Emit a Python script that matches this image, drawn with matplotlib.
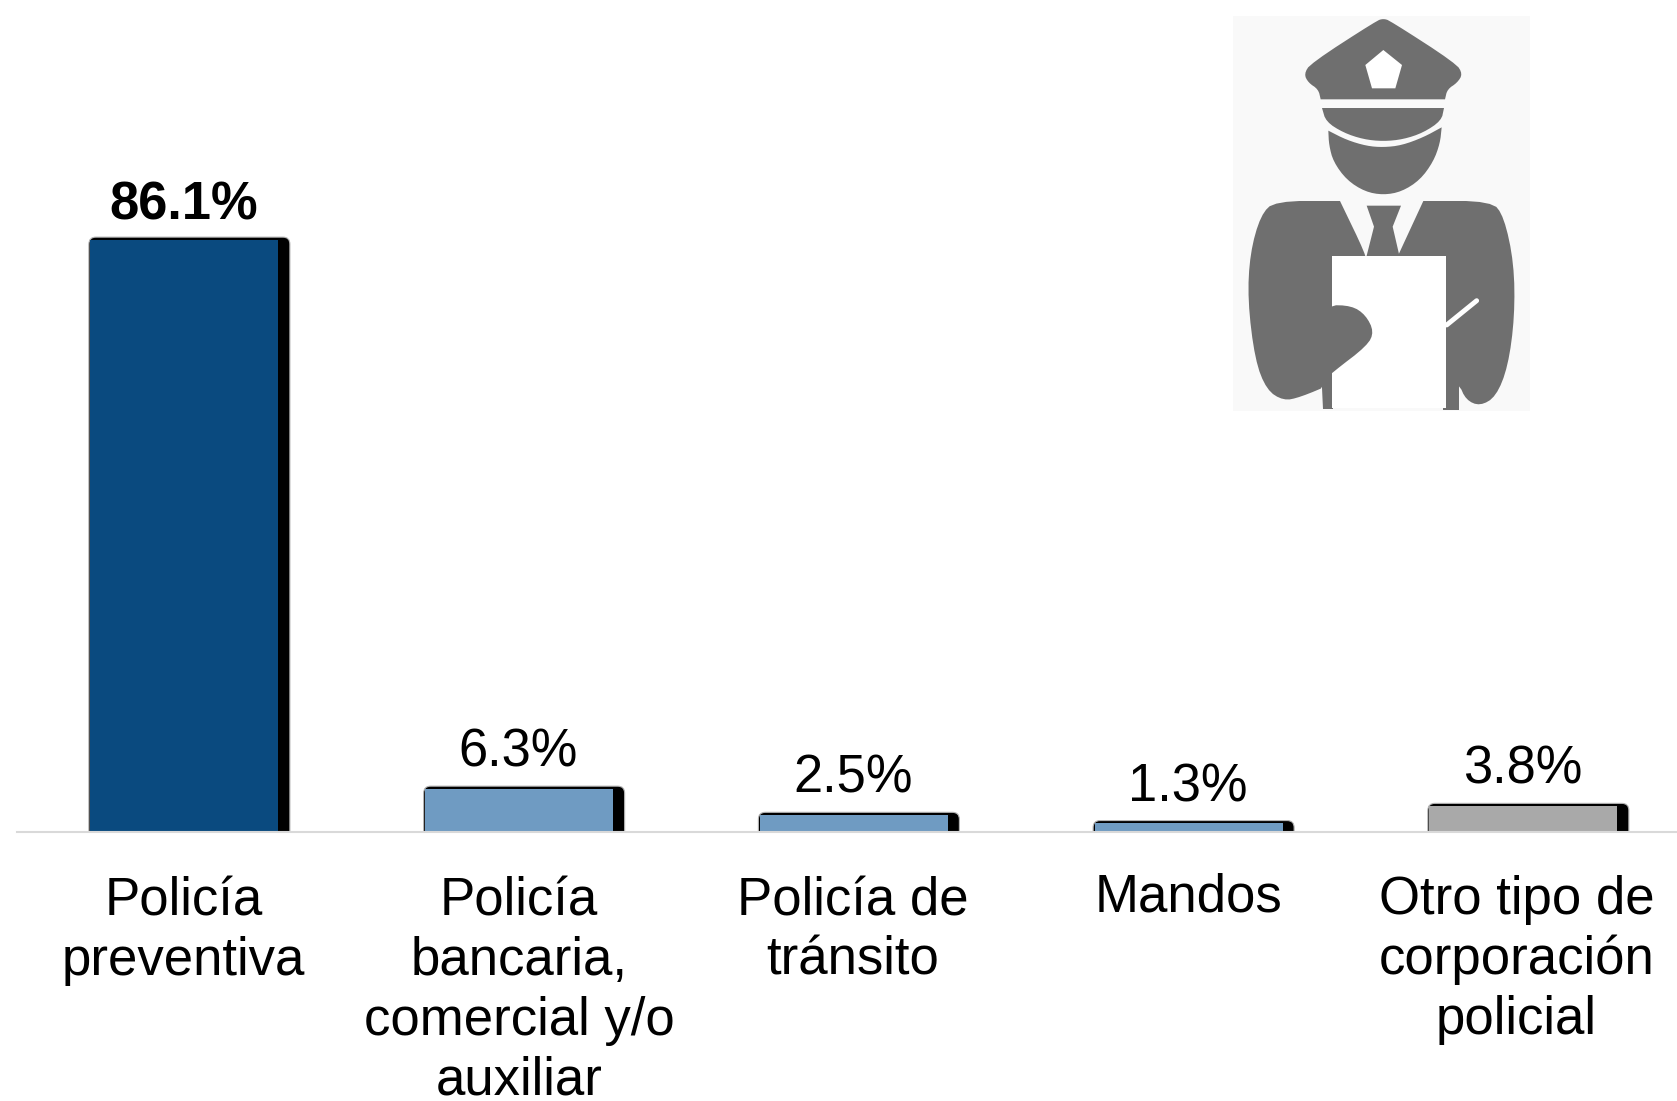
import matplotlib
matplotlib.use('Agg')
import matplotlib.pyplot as plt
from matplotlib.patches import FancyBboxPatch, Polygon, Rectangle

plt.rcParams['font.family'] = ['Liberation Sans', 'DejaVu Sans']

# Datos
categorias = ['Policía\npreventiva', 'Policía\nbancaria,\ncomercial y/o\nauxiliar',
              'Policía de\ntránsito', 'Mandos', 'Otro tipo de\ncorporación\npolicial']
valores = [86.1, 6.3, 2.5, 1.3, 3.8]
colores = ['#0a4a7f', '#6f9bc2', '#6f9bc2', '#6f9bc2', '#a9a9a9']

W, H = 1677, 1101
fig = plt.figure(figsize=(W / 100, H / 100), dpi=100, facecolor='white')

# ejes: 1 unidad x = 334.75 px, 1 % = 6.88 px, base en y = 832 px
ax = fig.add_axes([17 / W, (H - 832) / H, 1660 / W, 832 / H])
ax.set_xlim(-0.515, 4.444)
ax.set_ylim(0, 832 / 6.88)
ax.axis('off')

px_x = 1 / 334.75
px_y = 1 / 6.88
ancho = 201 * px_x
franja = 11.5 * px_x

for i, v in enumerate(valores):
    # sombra negra con esquinas redondeadas (se recorta en la base)
    sombra = FancyBboxPatch((i - ancho / 2, -2), ancho, v + 2 + 2.5 * px_y,
                            boxstyle='round,pad=0,rounding_size=%f' % (7 * px_x),
                            mutation_aspect=px_y / px_x,
                            fc='black', ec='#b5b5b5', lw=0.8, zorder=2)
    ax.add_patch(sombra)
    ax.bar(i - ancho / 2 + 1.5 * px_x, v, width=ancho - franja - 1.5 * px_x,
           align='edge', color=colores[i], lw=0, zorder=3)

ax.plot([-0.515, 4.444], [0, 0], color='#d9d9d9', lw=1.5, clip_on=False, zorder=4)

# etiquetas de valor
sube = [20, 22, 22, 22, 22]
for i, v in enumerate(valores):
    ax.annotate('%.1f%%' % v, xy=(i, v), xytext=(-6, sube[i]), textcoords='offset pixels',
                ha='center', va='baseline', fontsize=37.8, color='black',
                fontweight='bold' if i == 0 else 'normal')

# etiquetas de categoria
desp_x = [-6, -5, -6, -5, -12]
desp_y = [-44, -44, -44, -40, -43]
for i, c in enumerate(categorias):
    ax.annotate(c, xy=(i, 0), xytext=(desp_x[i], desp_y[i]), textcoords='offset pixels',
                ha='center', va='top', multialignment='center', fontsize=38,
                linespacing=1.25, color='black')

# icono del policia, en coordenadas propias
ic = fig.add_axes([1220 / W, (H - 430) / H, 320 / W, 430 / H])
ic.set_xlim(0, 960)
ic.set_ylim(1290, 0)
ic.axis('off')
ic.add_patch(Rectangle((40, 48), 890, 1184, fc='#f9f9f9', ec='none'))

gris = '#6f6f6f'

def suavizar(puntos, veces=2):
    for _ in range(veces):
        nuevos = []
        for k in range(len(puntos)):
            x0, y0 = puntos[k]
            x1, y1 = puntos[(k + 1) % len(puntos)]
            nuevos.append((0.75 * x0 + 0.25 * x1, 0.75 * y0 + 0.25 * y1))
            nuevos.append((0.25 * x0 + 0.75 * x1, 0.25 * y0 + 0.75 * y1))
        puntos = nuevos
    return puntos

def forma(puntos, color=gris, suave=False):
    if suave:
        puntos = suavizar(puntos)
    ic.add_patch(Polygon(puntos, closed=True, fc=color, ec='none'))

gorra = [(252, 222), (272, 190), (470, 62), (490, 56), (510, 62), (708, 190), (728, 222),
         (712, 248), (682, 268), (675, 298), (675, 298), (302, 298), (302, 298), (295, 268), (265, 248)]
estrella = [(490, 150), (546, 195), (526, 265), (456, 265), (436, 195)]
visera = [(306, 324), (306, 324), (672, 324), (672, 324), (664, 362), (610, 398), (550, 418), (490, 424),
          (430, 418), (370, 398), (318, 365)]
cara = [(325, 392), (325, 392), (380, 420), (440, 438), (490, 442), (545, 436), (610, 412), (665, 382), (665, 382),
        (660, 430), (640, 485), (600, 540), (545, 575), (490, 585), (435, 575), (380, 540),
        (340, 485), (327, 435)]
brazo_izq = [(165, 603), (360, 603), (360, 603), (438, 765), (438, 790), (340, 790), (340, 1150),
             (240, 1192), (190, 1202), (140, 1170), (105, 1080), (83, 900), (90, 760), (122, 645)]
mano = [(320, 915), (395, 917), (437, 945), (462, 995), (442, 1037), (340, 1115), (290, 1160),
        (280, 1000)]
cuerpo_bajo = [(303, 1100), (340, 1100), (340, 1228), (310, 1228)]
brazo_der = [(610, 603), (610, 603), (815, 603), (852, 650), (882, 790), (884, 950), (864, 1100), (828, 1190),
             (780, 1218), (738, 1200), (716, 1150), (670, 1150), (670, 790), (535, 790), (535, 765), (535, 765)]
cuerpo_der = [(670, 1100), (716, 1100), (716, 1230), (670, 1230)]
corbata = [(440, 617), (543, 617), (518, 680), (540, 775), (438, 775), (462, 680)]

forma(gorra, suave=True)
forma(estrella, 'white')
forma(visera, suave=True)
forma(cara, suave=True)
forma(brazo_izq, suave=True)
forma(cuerpo_bajo)
forma(brazo_der, suave=True)
forma(cuerpo_der)
forma(corbata)
forma([(335, 768), (678, 768), (678, 1224), (335, 1224)], 'white')
forma(mano, suave=True)
ic.plot([680, 770], [975, 902], color='white', lw=3.5, solid_capstyle='round')

fig.savefig('out.png', dpi=100, facecolor='white')
